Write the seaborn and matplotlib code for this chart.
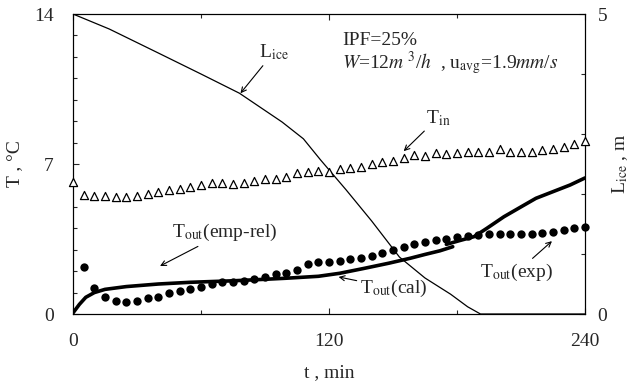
import numpy as np
import pandas as pd
import matplotlib
matplotlib.use("Agg")
import matplotlib.pyplot as plt
from matplotlib.ticker import MultipleLocator, FixedLocator
import seaborn as sns

# ---- data -------------------------------------------------------------
# inlet temperature (open triangles), every 5 min
t_in = list(range(0, 245, 5))
T_in = [6.17, 5.55, 5.52, 5.52, 5.44, 5.44, 5.50, 5.60, 5.71, 5.79,
        5.82, 5.94, 6.02, 6.13, 6.10, 6.08, 6.13, 6.20, 6.28, 6.31,
        6.38, 6.56, 6.64, 6.69, 6.64, 6.75, 6.80, 6.85, 7.00, 7.08,
        7.14, 7.27, 7.42, 7.39, 7.53, 7.45, 7.50, 7.57, 7.57, 7.57,
        7.69, 7.57, 7.57, 7.57, 7.65, 7.70, 7.81, 7.92, 8.09]

# measured outlet temperature (filled dots), every 5 min
t_exp = list(range(5, 245, 5))
T_exp = [2.21, 1.23, 0.81, 0.62, 0.55, 0.62, 0.73, 0.81, 0.99, 1.09,
         1.15, 1.27, 1.40, 1.51, 1.51, 1.56, 1.62, 1.74, 1.85, 1.93,
         2.05, 2.32, 2.41, 2.44, 2.47, 2.55, 2.63, 2.71, 2.83, 2.99,
         3.12, 3.25, 3.37, 3.45, 3.50, 3.58, 3.64, 3.69, 3.73, 3.73,
         3.73, 3.73, 3.73, 3.77, 3.81, 3.92, 4.00, 4.07]

# predicted outlet temperature, drawn as two pieces
t_pred_a = [0, 3, 6, 10, 15, 25, 40, 55, 75, 90, 100, 115, 125, 136,
            148, 158, 165, 172, 178]
T_pred_a = [0.05, 0.45, 0.78, 1.00, 1.15, 1.28, 1.40, 1.48, 1.55, 1.62,
            1.67, 1.76, 1.90, 2.12, 2.37, 2.60, 2.78, 2.95, 3.14]
t_pred_b = [175, 181, 188, 194, 202, 210, 217, 225, 233, 240]
T_pred_b = [3.25, 3.42, 3.61, 4.00, 4.54, 5.00, 5.40, 5.71, 6.02, 6.35]

# ice length on the right axis, m
t_ice = [0, 17, 40, 60, 78, 98, 108, 116, 128, 140, 153, 165, 177, 185,
         191, 240]
L_ice = [5.0, 4.75, 4.35, 4.0, 3.68, 3.2, 2.92, 2.57, 2.07, 1.55, 0.95,
         0.6, 0.33, 0.12, 0.0, 0.0]

x_ticks = [0, 120, 240]
y_ticks = [0, 7, 14]
y2_ticks = [0, 5]

# ---- style ------------------------------------------------------------
sns.set_style("ticks")
plt.rcParams["font.family"] = ["Liberation Serif", "DejaVu Serif"]
plt.rcParams["mathtext.fontset"] = "stix"
FS = 14

fig = plt.figure(figsize=(6.33, 3.88), dpi=100)
ax = fig.add_axes([0.1153, 0.1907, 0.8089, 0.7732])
ax2 = ax.twinx()

df_in = pd.DataFrame({"t": t_in, "T": T_in})
df_exp = pd.DataFrame({"t": t_exp, "T": T_exp})
df_a = pd.DataFrame({"t": t_pred_a, "T": T_pred_a})
df_b = pd.DataFrame({"t": t_pred_b, "T": T_pred_b})
df_ice = pd.DataFrame({"t": t_ice, "L": L_ice})

sns.lineplot(data=df_ice, x="t", y="L", ax=ax2, color="black", lw=0.9,
             sort=False, legend=False)
sns.scatterplot(data=df_in, x="t", y="T", ax=ax, marker="^", s=34,
                facecolor="white", edgecolor="black", linewidth=0.9,
                legend=False, zorder=3, clip_on=False)
sns.lineplot(data=df_a, x="t", y="T", ax=ax, color="black", lw=2.6,
             sort=False, legend=False)
sns.lineplot(data=df_b, x="t", y="T", ax=ax, color="black", lw=2.6,
             sort=False, legend=False)
sns.scatterplot(data=df_exp, x="t", y="T", ax=ax, marker="o", s=36,
                color="black", edgecolor="black", linewidth=0,
                legend=False, zorder=4, clip_on=False)

ax.set_zorder(ax2.get_zorder() + 1)
ax.patch.set_visible(False)

# ---- axes -------------------------------------------------------------
ax.set_xlim(0, 240)
ax.set_ylim(0, 14)
ax2.set_ylim(0, 5)

ax.xaxis.set_major_locator(FixedLocator(x_ticks))
ax.xaxis.set_minor_locator(MultipleLocator(60))
ax.yaxis.set_major_locator(FixedLocator(y_ticks))
ax.yaxis.set_minor_locator(MultipleLocator(1))
ax2.yaxis.set_major_locator(FixedLocator(y2_ticks))
ax2.yaxis.set_minor_locator(MultipleLocator(1))

ax.tick_params(which="both", direction="in", top=True, right=False,
               labelsize=FS, width=0.8)
ax.tick_params(axis="x", which="major", pad=14)
ax.tick_params(axis="y", which="major", pad=14)
ax.tick_params(which="major", length=4)
ax.tick_params(which="minor", length=3)
ax2.tick_params(which="both", direction="in", labelsize=FS, pad=9,
                width=0.8)
ax2.tick_params(which="major", length=4)
ax2.tick_params(which="minor", length=3)

for a in (ax, ax2):
    for sp in a.spines.values():
        sp.set_visible(True)
        sp.set_linewidth(0.8)
        sp.set_color("black")

ax.set_xlabel("t , min", fontsize=FS, labelpad=10)
ax.set_ylabel("T , °C", fontsize=FS, labelpad=8)
ax2.set_ylabel(r"L$_{\rm ice}$ , m", fontsize=FS, labelpad=2)

# ---- annotations ------------------------------------------------------
arrow = dict(arrowstyle="->", color="black", lw=0.8,
             shrinkA=0, shrinkB=0, mutation_scale=9)

ax.annotate(r"L$_{\rm ice}$", xy=(78.5, 10.3), xytext=(87, 12.2),
            fontsize=FS, ha="left", va="center", arrowprops=arrow)
ax.annotate(r"T$_{\rm in}$", xy=(155, 7.6), xytext=(171, 9.15),
            fontsize=FS, ha="center", va="center", arrowprops=arrow)
ax.annotate(r"T$_{\rm out}$(emp-rel)", xy=(40.8, 2.24), xytext=(46.4, 3.8),
            fontsize=FS, ha="left", va="center", arrowprops=arrow)
ax.annotate(r"T$_{\rm out}$(cal)", xy=(124.5, 1.73), xytext=(134.5, 1.2),
            fontsize=FS, ha="left", va="center", arrowprops=arrow)
ax.annotate(r"T$_{\rm out}$(exp)", xy=(224.5, 3.4), xytext=(191, 1.95),
            fontsize=FS, ha="left", va="center", arrowprops=arrow)

ax.text(126, 12.75, "IPF=25%", fontsize=FS, ha="left", va="center")
ax.text(126, 11.7,
        r"$W$=12$m^{\ 3}$/$h$  , u$_{\rm avg}$=1.9$mm$/$s$",
        fontsize=FS, ha="left", va="center")

fig.savefig("out.png", dpi=100)
